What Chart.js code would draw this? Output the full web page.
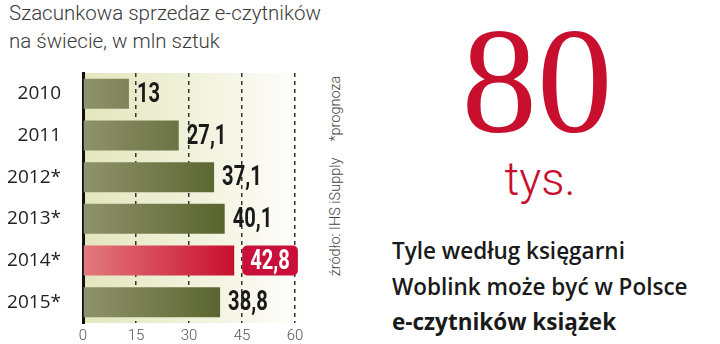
<!DOCTYPE html>
<html>
<head>
<meta charset="utf-8">
<script src="https://cdn.jsdelivr.net/npm/chart.js@4/dist/chart.umd.min.js"></script>
<style>
  body { margin: 0; width: 720px; height: 344px; background: #fff; position: relative; overflow: hidden; font-family: "Open Sans", sans-serif; }
  #title { position: absolute; left: 9px; top: -1px; font-family: Roboto, "Open Sans", sans-serif; font-weight: 300; font-size: 20.5px; line-height: 28px; color: #3a3a3a; }
  #salesChart { position: absolute; left: 0; top: 60px; }
  #source { position: absolute; left: 335px; top: 176px; transform: translate(-50%, -50%) rotate(-90deg); white-space: nowrap; font-family: Roboto, sans-serif; font-weight: 300; font-size: 14.5px; color: #444; }
  #source span { margin-left: 16px; }
  #big { position: absolute; left: 537px; top: -2px; transform: translateX(-50%); font-family: "Liberation Serif", serif; font-size: 151px; line-height: 166px; color: #c8102e; }
  #unit { position: absolute; left: 540px; top: 151px; transform: translateX(-50%); font-family: Roboto, sans-serif; font-weight: 300; font-size: 46px; line-height: 56px; color: #c8102e; }
  #note { position: absolute; left: 392px; top: 233px; font-family: "Open Sans", sans-serif; font-weight: 600; font-size: 22.5px; line-height: 35.5px; color: #1a1a1a; }
  #note b { font-weight: 700; }
</style>
</head>
<body>
<div id="title">Szacunkowa sprzedaz e-czytników<br>na świecie, w mln sztuk</div>
<canvas id="salesChart" width="320" height="284"></canvas>
<div id="source">źródło: IHS iSupply<span>*prognoza</span></div>
<div id="big">80</div>
<div id="unit">tys.</div>
<div id="note">Tyle według księgarni<br>Woblink może być w Polsce<br><b>e-czytników książek</b></div>
<script>
const years = ["2010", "2011", "2012*", "2013*", "2014*", "2015*"];
const sales = [13, 27.1, 37.1, 40.1, 42.8, 38.8];
const valueLabels = ["13", "27,1", "37,1", "40,1", "42,8", "38,8"];
const xTicks = [0, 15, 30, 45, 60];
const highlightIndex = 4;

const ctx = document.getElementById("salesChart");

const barColor = (c) => {
    const area = c.chart.chartArea;
    if (!area) return "#6b7340";
    const g = c.chart.ctx.createLinearGradient(area.left, 0, area.left + 150, 0);
    if (c.dataIndex === highlightIndex) {
        g.addColorStop(0, "#e27a7e");
        g.addColorStop(1, "#c8102e");
    } else {
        g.addColorStop(0, "#8f936c");
        g.addColorStop(1, "#56612a");
    }
    return g;
};

// pale background fading to white, painted before anything else
const plotBackground = {
    id: "plotBackground",
    beforeDraw(chart) {
        const { ctx, chartArea } = chart;
        const right = chartArea.right + 15;
        const g = ctx.createLinearGradient(chartArea.left, 0, right, 0);
        g.addColorStop(0, "#e3e6bd");
        g.addColorStop(0.5, "#f1f2dc");
        g.addColorStop(1, "#ffffff");
        ctx.save();
        ctx.fillStyle = g;
        ctx.fillRect(chartArea.left, chartArea.top, right - chartArea.left, chartArea.bottom - chartArea.top);
        ctx.restore();
    }
};

// condensed bold value labels (squeezed horizontally), on top of the grid
const valueTags = {
    id: "valueTags",
    afterDraw(chart) {
        const { ctx } = chart;
        const meta = chart.getDatasetMeta(0);
        const squeeze = 0.72;
        ctx.save();
        ctx.font = "bold 28px Roboto, sans-serif";
        ctx.textBaseline = "middle";
        meta.data.forEach((bar, i) => {
            const x = bar.x + 8;
            const y = bar.y;
            const w = ctx.measureText(valueLabels[i]).width * squeeze;
            let tx = x;
            if (i === highlightIndex) {
                ctx.fillStyle = "#c8103a";
                ctx.beginPath();
                ctx.roundRect(x, y - 15, w + 16, 30, 5);
                ctx.fill();
                ctx.fillStyle = "#ffffff";
                tx = x + 8;
            } else {
                ctx.fillStyle = "#1a1a1a";
            }
            ctx.save();
            ctx.translate(tx, y + 1);
            ctx.scale(squeeze, 1);
            ctx.fillText(valueLabels[i], 0, 0);
            ctx.restore();
        });
        ctx.restore();
    }
};

new Chart(ctx, {
    type: "bar",
    data: {
        labels: years,
        datasets: [{
            data: sales,
            backgroundColor: barColor,
            barPercentage: 0.72,
            categoryPercentage: 1
        }]
    },
    options: {
        indexAxis: "y",
        responsive: false,
        animation: false,
        layout: { padding: { top: 13, right: 25, left: 0, bottom: 0 } },
        plugins: { legend: { display: false }, tooltip: { enabled: false } },
        scales: {
            x: {
                min: 0,
                max: 60,
                z: 1,
                afterBuildTicks: (s) => { s.ticks = xTicks.map(v => ({ value: v })); },
                afterFit: (s) => { s.height = 21; s.paddingLeft = 0; s.paddingRight = 0; },
                grid: { color: "#333", lineWidth: 1.5, drawTicks: false },
                border: { display: false, dash: [4, 4] },
                ticks: { padding: 4, color: "#555", font: { family: "Roboto", weight: 300, size: 15 } }
            },
            y: {
                z: 1,
                afterFit: (s) => { s.width = 83; s.paddingTop = 0; s.paddingBottom = 0; },
                grid: { display: false, drawTicks: false },
                border: { display: true, color: "#111", width: 3 },
                ticks: { padding: 22, color: "#222", font: { family: "Open Sans", size: 19 } }
            }
        }
    },
    plugins: [plotBackground, valueTags]
});
</script>
</body>
</html>
